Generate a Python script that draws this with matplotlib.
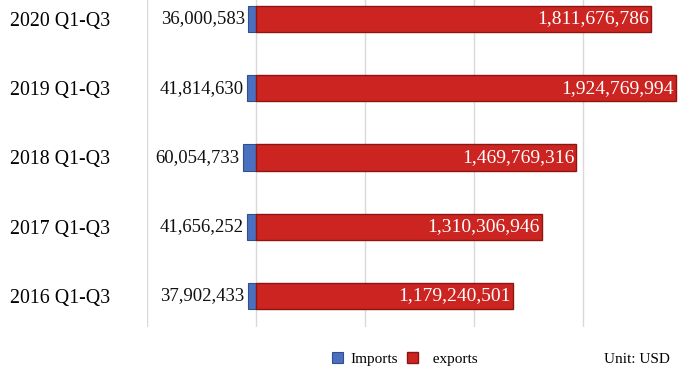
import matplotlib.pyplot as plt
from matplotlib.ticker import FixedLocator

plt.rcParams['font.family'] = ['Liberation Serif', 'DejaVu Serif']

# Dados (USD)
periodos = ['2016 Q1-Q3', '2017 Q1-Q3', '2018 Q1-Q3', '2019 Q1-Q3', '2020 Q1-Q3']
importacoes = [37902433, 41656252, 60054733, 41814630, 36000583]
exportacoes = [1179240501, 1310306946, 1469769316, 1924769994, 1811676786]

fig = plt.figure(figsize=(6.92, 3.76), dpi=100)
ax = fig.add_axes([0.2124, 0.1303, 0.7876, 0.8697])

y = range(len(periodos))
altura = 0.38

# importacoes desenhadas para a esquerda do zero
b_imp = ax.barh(y, [-v for v in importacoes], height=altura, color='#4a70bf',
                edgecolor='#2f4f8f', linewidth=0.8, zorder=3)
b_exp = ax.barh(y, exportacoes, height=altura, color='#cc2420',
                edgecolor='#8a1612', linewidth=1.0, zorder=3)

for i, (imp, exp) in enumerate(zip(importacoes, exportacoes)):
    ax.text(-imp - 1.5e7, i, f'{imp:,}', ha='right', va='center', fontsize=13.5, color='#111111')
    ax.text(exp - 1.0e7, i, f'{exp:,}', ha='right', va='center', fontsize=14, color='white')

ax.set_xlim(-5e8, 2e9)
ax.set_ylim(-0.448, 4.274)
ax.xaxis.set_major_locator(FixedLocator([-5e8, 0, 5e8, 1e9, 1.5e9]))
ax.grid(axis='x', color='#d9d9d9', linewidth=1, zorder=0)
ax.set_xticklabels([])
ax.tick_params(axis='x', length=0)
ax.set_yticks(list(y))
ax.set_yticklabels(periodos, fontsize=14.3)
ax.tick_params(axis='y', length=0, pad=26.5)
for s in ax.spines.values():
    s.set_visible(False)

fig.legend([b_imp, b_exp], ['Imports', '  exports'], loc='center', bbox_to_anchor=(0.585, 0.045),
           ncol=2, frameon=False, fontsize=11, handlelength=0.7, handleheight=0.7,
           handletextpad=0.5, columnspacing=0.6)
fig.text(0.873, 0.045, 'Unit: USD', ha='left', va='center', fontsize=11)

fig.savefig('out.png', dpi=100)
